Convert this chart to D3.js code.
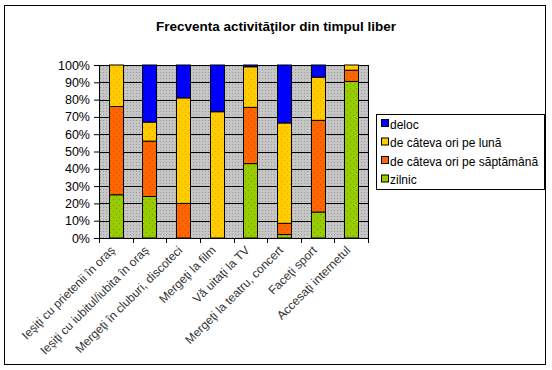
<!DOCTYPE html>
<html>
<head>
<meta charset="utf-8">
<script src="https://cdn.jsdelivr.net/npm/d3@7"></script>
<style>
  body { margin: 0; background: #fff; }
  svg { display: block; font-family: Arial, "Liberation Sans", sans-serif; }
</style>
</head>
<body>
<svg id="chart" width="552" height="370"></svg>
<script>
const categories = [
  "Ieşiţi cu prietenii în oraş",
  "Ieşiţi cu iubitul/iubita în oraş",
  "Mergeţi în cluburi, discoteci",
  "Mergeţi la film",
  "Vă uitaţi la TV",
  "Mergeţi la teatru, concert",
  "Faceţi sport",
  "Accesaţi internetul"
];
const zilnic    = [25, 24, 0, 0, 43, 2, 15, 90.5];
const saptamana = [51, 32, 20, 0, 32.5, 6.5, 53, 6.5];
const luna      = [24, 11, 61, 73, 23.5, 58, 25, 3];
const deloc     = [0, 33, 19, 27, 1, 33.5, 7, 0];
const seriesNames = ["zilnic", "de câteva ori pe săptămână", "de câteva ori pe lună", "deloc"];
const yTicks = [0, 10, 20, 30, 40, 50, 60, 70, 80, 90, 100];

const colors = ["#99CC00", "#FF6600", "#FFCC00", "#0000FF"];
const dotColors = ["#6E9900", "#E04000", "#FF9900", "#0000CC"];

const width = 552, height = 370;
const margin = { top: 65, left: 99, right: 184, bottom: 132 };
const plotW = width - margin.left - margin.right;
const plotH = height - margin.top - margin.bottom;

const svg = d3.select("#chart");

// table built from the arrays
const table = categories.map((c, i) => ({
  cat: c, zilnic: zilnic[i], saptamana: saptamana[i], luna: luna[i], deloc: deloc[i]
}));
const keys = ["zilnic", "saptamana", "luna", "deloc"];
const stacked = d3.stack().keys(keys)(table);

// patterns
const defs = svg.append("defs");
const bg = defs.append("pattern").attr("id", "bgpat")
  .attr("width", 3).attr("height", 3).attr("patternUnits", "userSpaceOnUse");
bg.append("rect").attr("width", 3).attr("height", 3).attr("fill", "#C6C6C6");
bg.append("rect").attr("x", 1).attr("y", 1).attr("width", 1).attr("height", 1).attr("fill", "#9A9A9A");

colors.forEach((c, i) => {
  const p = defs.append("pattern").attr("id", "pat" + i)
    .attr("width", 6).attr("height", 6).attr("patternUnits", "userSpaceOnUse");
  p.append("rect").attr("width", 6).attr("height", 6).attr("fill", c);
  p.append("rect").attr("x", 2).attr("y", 2).attr("width", 1).attr("height", 1).attr("fill", dotColors[i]);
  p.append("rect").attr("x", 5).attr("y", 5).attr("width", 1).attr("height", 1).attr("fill", dotColors[i]);
});

// outer border
svg.append("rect").attr("x", 4.5).attr("y", 5.5).attr("width", 541).attr("height", 359)
  .attr("fill", "#fff").attr("stroke", "#000").attr("stroke-width", 1);

// title
svg.append("text").attr("x", 276).attr("y", 31).attr("text-anchor", "middle")
  .attr("font-size", "13.5px").attr("font-weight", "bold").text("Frecventa activităţilor din timpul liber");

const x = d3.scaleBand().domain(categories).range([0, plotW]).paddingInner(0.58).paddingOuter(0.29);
const y = d3.scaleLinear().domain([0, 100]).range([plotH, 0]);

const g = svg.append("g").attr("transform", `translate(${margin.left},${margin.top})`);

g.append("rect").attr("width", plotW).attr("height", plotH).attr("fill", "url(#bgpat)");

// gridlines
g.append("g").selectAll("line").data(yTicks.slice(1)).join("line")
  .attr("x1", 0).attr("x2", plotW)
  .attr("y1", d => Math.round(y(d)) + 0.5).attr("y2", d => Math.round(y(d)) + 0.5)
  .attr("stroke", "#000").attr("stroke-width", 1);

// right edge of plot
g.append("line").attr("x1", plotW + 0.5).attr("x2", plotW + 0.5).attr("y1", 0).attr("y2", plotH)
  .attr("stroke", "#000");

// bars
stacked.forEach((layer, si) => {
  g.append("g").selectAll("rect").data(layer.filter(d => d[1] - d[0] > 0)).join("rect")
    .attr("x", d => Math.round(x(d.data.cat)) + 0.5)
    .attr("width", Math.round(x.bandwidth()))
    .attr("y", d => y(d[1]))
    .attr("height", d => y(d[0]) - y(d[1]))
    .attr("fill", `url(#pat${si})`)
    .attr("stroke", "#000").attr("stroke-width", 1);
});

// y axis
const yAxis = g.append("g").call(
  d3.axisLeft(y).tickValues(yTicks).tickFormat(d => d + "%").tickSize(5).tickPadding(4)
);
yAxis.select(".domain").attr("stroke", "#000");
yAxis.selectAll("text").attr("font-size", "12.5px").attr("fill", "#000").attr("font-family", "Arial, 'Liberation Sans', sans-serif");

// x axis
const xAxis = g.append("g").attr("transform", `translate(0,${plotH})`);
xAxis.append("line").attr("x1", 0).attr("x2", plotW + 1).attr("y1", 0.5).attr("y2", 0.5).attr("stroke", "#000");
const step = x.step();
xAxis.selectAll(".tk").data(d3.range(categories.length + 1)).join("line")
  .attr("class", "tk")
  .attr("x1", d => Math.round(d * step) + 0.5).attr("x2", d => Math.round(d * step) + 0.5)
  .attr("y1", 0).attr("y2", 5).attr("stroke", "#000");
xAxis.selectAll(".lbl").data(categories).join("text")
  .attr("class", "lbl")
  .attr("text-anchor", "end")
  .attr("font-size", "12px")
  .attr("fill", "#333")
  .attr("transform", d => `translate(${x(d) + x.bandwidth() / 2},${13}) rotate(-45)`)
  .text(d => d);

// legend
const legendOrder = [3, 2, 1, 0];
const lg = svg.append("g").attr("transform", "translate(376,114)");
lg.append("rect").attr("x", 0.5).attr("y", 0.5).attr("width", 168).attr("height", 75)
  .attr("fill", "#fff").attr("stroke", "#000");
legendOrder.forEach((si, i) => {
  const row = lg.append("g").attr("transform", `translate(5,${10 + i * 18.5})`);
  row.append("rect").attr("x", 0.5).attr("y", -4.5).attr("width", 7).attr("height", 7)
    .attr("fill", colors[si]).attr("stroke", "#000");
  row.append("text").attr("x", 9).attr("y", 4.5).attr("font-size", "12px").text(seriesNames[si]);
});
</script>
</body>
</html>
